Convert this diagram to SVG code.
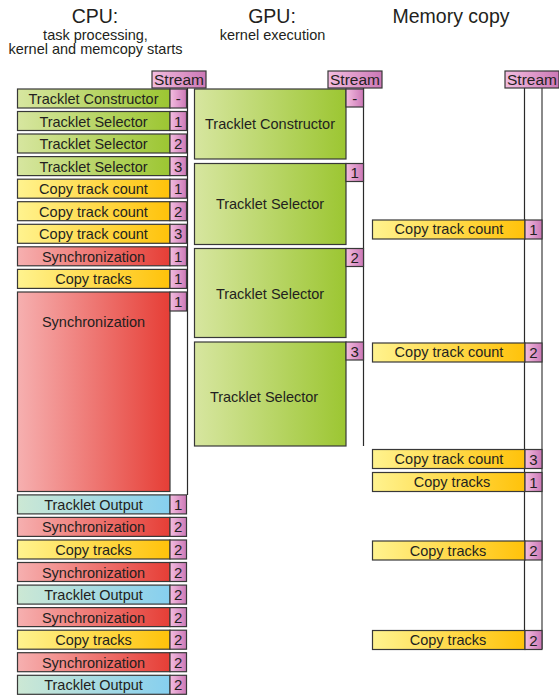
<svg xmlns="http://www.w3.org/2000/svg" width="559" height="695" viewBox="0 0 559 695">
  <defs>
    <linearGradient id="gGreen" x1="0" y1="0" x2="1" y2="0">
      <stop offset="0" stop-color="#d7e6a0"/>
      <stop offset="1" stop-color="#9cc632"/>
    </linearGradient>
    <linearGradient id="gYellow" x1="0" y1="0" x2="1" y2="0">
      <stop offset="0" stop-color="#fff38f"/>
      <stop offset="1" stop-color="#ffc20a"/>
    </linearGradient>
    <linearGradient id="gRed" x1="0" y1="0" x2="1" y2="0">
      <stop offset="0" stop-color="#f6b0b0"/>
      <stop offset="1" stop-color="#e63e36"/>
    </linearGradient>
    <linearGradient id="gBlue" x1="0" y1="0" x2="1" y2="0">
      <stop offset="0" stop-color="#cce8d4"/>
      <stop offset="1" stop-color="#86cfef"/>
    </linearGradient>
    <linearGradient id="gPink" x1="0" y1="0" x2="1" y2="0">
      <stop offset="0" stop-color="#f3bde0"/>
      <stop offset="1" stop-color="#cc78b6"/>
    </linearGradient>
    <style>
      text { font-family: "Liberation Sans", Arial, sans-serif; fill: #231f20; text-anchor: middle; }
      .title { font-size: 19.5px; }
      .sub { font-size: 14.5px; }
      .lbl { font-size: 14.5px; }
      .num { font-size: 15px; }
      .hdr { font-size: 15.5px; }
      rect { stroke: #383838; stroke-width: 1.2; }
      .green { fill: url(#gGreen); }
      .yellow { fill: url(#gYellow); }
      .red { fill: url(#gRed); }
      .blue { fill: url(#gBlue); }
      .pink { fill: url(#gPink); }
      .lane { stroke: #2a2a2a; stroke-width: 1.2; fill: none; }
      .lane2 { stroke: #8a8a8a; stroke-width: 2; fill: none; }
    </style>
  </defs>

  <!-- column titles -->
  <g id="titles">
    <text class="title" x="95" y="23">CPU:</text>
    <text class="sub" x="95.5" y="39.5">task processing,</text>
    <text class="sub" x="95.5" y="54">kernel and memcopy starts</text>
    <text class="title" x="272" y="23">GPU:</text>
    <text class="sub" x="272.5" y="39.5">kernel execution</text>
    <text class="title" x="451" y="23">Memory copy</text>
  </g>

  <!-- stream lanes -->
  <g id="connectors">
    <line class="lane" x1="187.5" y1="88" x2="187.5" y2="495"/>
    <line class="lane" x1="363.5" y1="88" x2="363.5" y2="446"/>
    <line class="lane" x1="524.5" y1="88" x2="524.5" y2="649"/>
    <line class="lane2" x1="542" y1="88" x2="542" y2="649"/>
  </g>

  <!-- stream headers -->
  <g id="stream-headers">
    <rect class="pink" x="152" y="71" width="54" height="17"/>
    <text class="hdr" x="179" y="85">Stream</text>
    <rect class="pink" x="328" y="71" width="54" height="17"/>
    <text class="hdr" x="355" y="85">Stream</text>
    <rect class="pink" x="505" y="71" width="54" height="17"/>
    <text class="hdr" x="532" y="85">Stream</text>
  </g>

  <!-- CPU tasks -->
  <g id="cpu-0"><rect class="green" x="17.5" y="89" width="152.5" height="19"/><text class="lbl" x="93.5" y="104">Tracklet Constructor</text><rect class="pink" x="170" y="89" width="16.5" height="19"/><text class="num" x="178.2" y="104">-</text></g>
  <g id="cpu-1"><rect class="green" x="17.5" y="111.5" width="152.5" height="19"/><text class="lbl" x="93.5" y="126.5">Tracklet Selector</text><rect class="pink" x="170" y="111.5" width="16.5" height="19"/><text class="num" x="178.2" y="126.5">1</text></g>
  <g id="cpu-2"><rect class="green" x="17.5" y="134" width="152.5" height="19"/><text class="lbl" x="93.5" y="149">Tracklet Selector</text><rect class="pink" x="170" y="134" width="16.5" height="19"/><text class="num" x="178.2" y="149">2</text></g>
  <g id="cpu-3"><rect class="green" x="17.5" y="156.6" width="152.5" height="19"/><text class="lbl" x="93.5" y="171.6">Tracklet Selector</text><rect class="pink" x="170" y="156.6" width="16.5" height="19"/><text class="num" x="178.2" y="171.6">3</text></g>
  <g id="cpu-4"><rect class="yellow" x="17.5" y="179.2" width="152.5" height="19"/><text class="lbl" x="93.5" y="194.2">Copy track count</text><rect class="pink" x="170" y="179.2" width="16.5" height="19"/><text class="num" x="178.2" y="194.2">1</text></g>
  <g id="cpu-5"><rect class="yellow" x="17.5" y="201.7" width="152.5" height="19"/><text class="lbl" x="93.5" y="216.7">Copy track count</text><rect class="pink" x="170" y="201.7" width="16.5" height="19"/><text class="num" x="178.2" y="216.7">2</text></g>
  <g id="cpu-6"><rect class="yellow" x="17.5" y="224.3" width="152.5" height="19"/><text class="lbl" x="93.5" y="239.3">Copy track count</text><rect class="pink" x="170" y="224.3" width="16.5" height="19"/><text class="num" x="178.2" y="239.3">3</text></g>
  <g id="cpu-7"><rect class="red" x="17.5" y="246.8" width="152.5" height="19"/><text class="lbl" x="93.5" y="261.8">Synchronization</text><rect class="pink" x="170" y="246.8" width="16.5" height="19"/><text class="num" x="178.2" y="261.8">1</text></g>
  <g id="cpu-8"><rect class="yellow" x="17.5" y="269.4" width="152.5" height="19"/><text class="lbl" x="93.5" y="284.4">Copy tracks</text><rect class="pink" x="170" y="269.4" width="16.5" height="19"/><text class="num" x="178.2" y="284.4">1</text></g>
  <g id="cpu-9"><rect class="red" x="17.5" y="292" width="152.5" height="199.5"/><text class="lbl" x="93.5" y="327">Synchronization</text><rect class="pink" x="170" y="292" width="16.5" height="19"/><text class="num" x="178.2" y="307">1</text></g>
  <g id="cpu-10"><rect class="blue" x="17.5" y="494.9" width="152.5" height="19"/><text class="lbl" x="93.5" y="509.9">Tracklet Output</text><rect class="pink" x="170" y="494.9" width="16.5" height="19"/><text class="num" x="178.2" y="509.9">1</text></g>
  <g id="cpu-11"><rect class="red" x="17.5" y="517.4" width="152.5" height="19"/><text class="lbl" x="93.5" y="532.4">Synchronization</text><rect class="pink" x="170" y="517.4" width="16.5" height="19"/><text class="num" x="178.2" y="532.4">2</text></g>
  <g id="cpu-12"><rect class="yellow" x="17.5" y="540" width="152.5" height="19"/><text class="lbl" x="93.5" y="555">Copy tracks</text><rect class="pink" x="170" y="540" width="16.5" height="19"/><text class="num" x="178.2" y="555">2</text></g>
  <g id="cpu-13"><rect class="red" x="17.5" y="562.5" width="152.5" height="19"/><text class="lbl" x="93.5" y="577.5">Synchronization</text><rect class="pink" x="170" y="562.5" width="16.5" height="19"/><text class="num" x="178.2" y="577.5">2</text></g>
  <g id="cpu-14"><rect class="blue" x="17.5" y="585.1" width="152.5" height="19"/><text class="lbl" x="93.5" y="600.1">Tracklet Output</text><rect class="pink" x="170" y="585.1" width="16.5" height="19"/><text class="num" x="178.2" y="600.1">2</text></g>
  <g id="cpu-15"><rect class="red" x="17.5" y="607.6" width="152.5" height="19"/><text class="lbl" x="93.5" y="622.6">Synchronization</text><rect class="pink" x="170" y="607.6" width="16.5" height="19"/><text class="num" x="178.2" y="622.6">2</text></g>
  <g id="cpu-16"><rect class="yellow" x="17.5" y="630.2" width="152.5" height="19"/><text class="lbl" x="93.5" y="645.2">Copy tracks</text><rect class="pink" x="170" y="630.2" width="16.5" height="19"/><text class="num" x="178.2" y="645.2">2</text></g>
  <g id="cpu-17"><rect class="red" x="17.5" y="652.7" width="152.5" height="19"/><text class="lbl" x="93.5" y="667.7">Synchronization</text><rect class="pink" x="170" y="652.7" width="16.5" height="19"/><text class="num" x="178.2" y="667.7">2</text></g>
  <g id="cpu-18"><rect class="blue" x="17.5" y="675.3" width="152.5" height="19"/><text class="lbl" x="93.5" y="690.3">Tracklet Output</text><rect class="pink" x="170" y="675.3" width="16.5" height="19"/><text class="num" x="178.2" y="690.3">2</text></g>

  <!-- GPU kernels -->
  <g id="gpu-0"><rect class="green" x="194.5" y="89" width="151.5" height="70"/><text class="lbl" x="270" y="129">Tracklet Constructor</text><rect class="pink" x="346" y="89" width="17.5" height="18"/><text class="num" x="354.7" y="103.5">-</text></g>
  <g id="gpu-1"><rect class="green" x="194.5" y="163.5" width="151.5" height="81"/><text class="lbl" x="270" y="209">Tracklet Selector</text><rect class="pink" x="346" y="163.5" width="17.5" height="18"/><text class="num" x="354.7" y="178">1</text></g>
  <g id="gpu-2"><rect class="green" x="194.5" y="248.5" width="151.5" height="89"/><text class="lbl" x="270" y="299">Tracklet Selector</text><rect class="pink" x="346" y="248.5" width="17.5" height="18"/><text class="num" x="354.7" y="263">2</text></g>
  <g id="gpu-3"><rect class="green" x="194.5" y="342" width="151.5" height="104"/><text class="lbl" x="264" y="402">Tracklet Selector</text><rect class="pink" x="346" y="342" width="17.5" height="18"/><text class="num" x="354.7" y="356.5">3</text></g>

  <!-- memory copies -->
  <g id="mem-0"><rect class="yellow" x="372.5" y="220" width="152.5" height="19"/><text class="lbl" x="449" y="234">Copy track count</text><rect class="pink" x="525" y="220" width="17" height="19"/><text class="num" x="533.5" y="235">1</text></g>
  <g id="mem-1"><rect class="yellow" x="372.5" y="343" width="152.5" height="19"/><text class="lbl" x="449" y="357">Copy track count</text><rect class="pink" x="525" y="343" width="17" height="19"/><text class="num" x="533.5" y="358">2</text></g>
  <g id="mem-2"><rect class="yellow" x="372.5" y="449.5" width="152.5" height="19"/><text class="lbl" x="449" y="463.5">Copy track count</text><rect class="pink" x="525" y="449.5" width="17" height="19"/><text class="num" x="533.5" y="464.5">3</text></g>
  <g id="mem-3"><rect class="yellow" x="372.5" y="472.5" width="152.5" height="19"/><text class="lbl" x="452" y="487">Copy tracks</text><rect class="pink" x="525" y="472.5" width="17" height="19"/><text class="num" x="533.5" y="487.5">1</text></g>
  <g id="mem-4"><rect class="yellow" x="372.5" y="541" width="152.5" height="19"/><text class="lbl" x="448" y="555.5">Copy tracks</text><rect class="pink" x="525" y="541" width="17" height="19"/><text class="num" x="533.5" y="556">2</text></g>
  <g id="mem-5"><rect class="yellow" x="372.5" y="630.5" width="152.5" height="19"/><text class="lbl" x="448" y="645">Copy tracks</text><rect class="pink" x="525" y="630.5" width="17" height="19"/><text class="num" x="533.5" y="645.5">2</text></g>
</svg>
